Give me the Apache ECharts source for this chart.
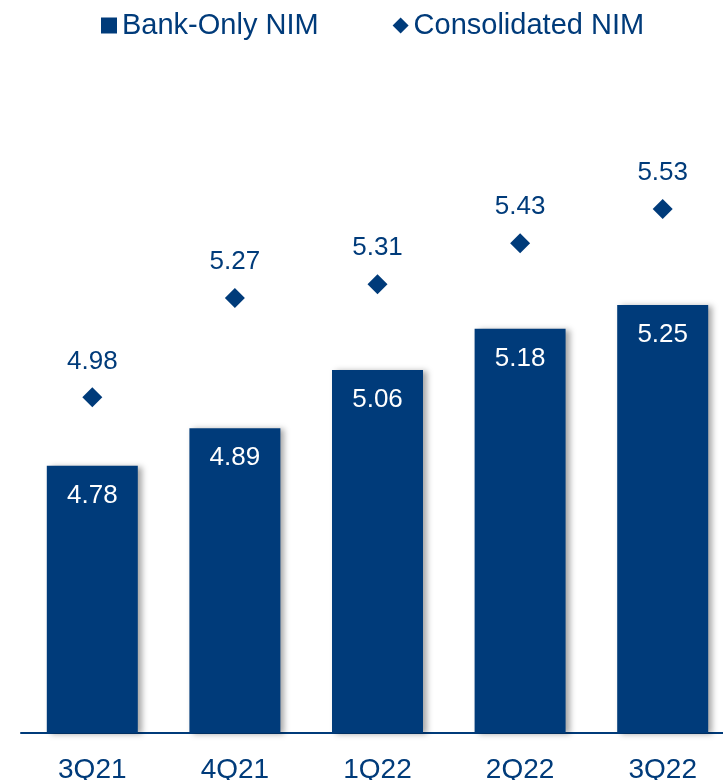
<!DOCTYPE html>
<html>
<head>
<meta charset="utf-8">
<script src="https://cdn.jsdelivr.net/npm/echarts@6/dist/echarts.min.js"></script>
<style>
  html, body { margin: 0; padding: 0; background: #fff; }
  #main { width: 723px; height: 780px; }
</style>
</head>
<body>
<div id="main"></div>
<script>
const quarters = ['3Q21', '4Q21', '1Q22', '2Q22', '3Q22'];
const bankOnlyNim = [4.78, 4.89, 5.06, 5.18, 5.25];
const consolidatedNim = [4.98, 5.27, 5.31, 5.43, 5.53];

const navy = '#003B7A';
const font = '"Liberation Sans", Arial, sans-serif';

const chart = echarts.init(document.getElementById('main'), null, { renderer: 'canvas' });

const option = {
  animation: false,
  legend: {
    left: 96,
    top: 6,
    itemWidth: 16,
    itemHeight: 16,
    itemGap: 74,
    textStyle: { color: navy, fontSize: 29, fontFamily: font },
    data: [
      { name: 'Bank-Only NIM', icon: 'rect' },
      { name: 'Consolidated NIM', icon: 'diamond' }
    ]
  },
  grid: { left: 21, right: -11, top: 48, bottom: 47, outerBoundsMode: 'none' },
  xAxis: {
    type: 'category',
    data: quarters,
    axisLine: { lineStyle: { color: navy, width: 2 } },
    axisTick: { show: false },
    axisLabel: { color: navy, fontSize: 28, fontFamily: font, margin: 23 }
  },
  yAxis: {
    type: 'value',
    min: 4,
    max: 6,
    show: false,
    splitLine: { show: false }
  },
  series: [
    {
      name: 'Bank-Only NIM',
      type: 'bar',
      barWidth: 91,
      data: bankOnlyNim,
      itemStyle: {
        color: navy,
        shadowColor: 'rgba(0,0,0,0.35)',
        shadowBlur: 6,
        shadowOffsetX: 4,
        shadowOffsetY: 1
      },
      label: {
        show: true,
        position: 'insideTop',
        distance: 17,
        color: '#fff',
        fontSize: 26,
        fontFamily: font,
        formatter: p => p.value.toFixed(2)
      }
    },
    {
      name: 'Consolidated NIM',
      type: 'scatter',
      symbol: 'diamond',
      symbolSize: 20,
      data: consolidatedNim,
      itemStyle: { color: navy, opacity: 1 },
      label: {
        show: true,
        position: 'top',
        distance: 13,
        color: navy,
        fontSize: 26,
        fontFamily: font,
        formatter: p => p.value.toFixed(2)
      }
    }
  ]
};

chart.setOption(option);
</script>
</body>
</html>
